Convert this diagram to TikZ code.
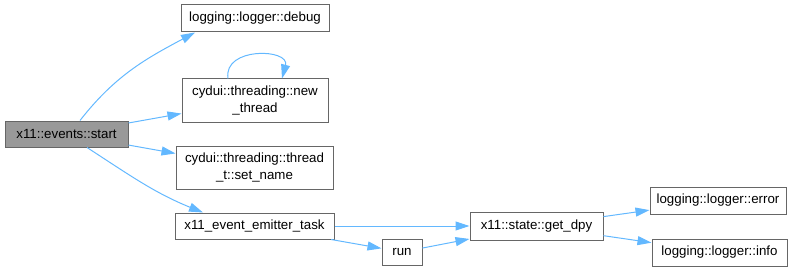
\documentclass[tikz,border=0pt]{standalone}
\usepackage{fontspec}
\setmainfont{Liberation Sans}
\usetikzlibrary{arrows.meta}
\usetikzlibrary{calc}

\definecolor{edgeblue}{HTML}{63B8FF}
\definecolor{boxline}{HTML}{666666}
\definecolor{curfill}{HTML}{999999}

\tikzset{
  fn/.style={draw=boxline, line width=1pt, fill=white, inner sep=0pt,
    align=center, font=\fontsize{13.3}{17}\selectfont},
  cur/.style={fn, fill=curfill},
  call/.style={draw=edgeblue, line width=1pt,
    -{Triangle[length=14pt,width=9pt]}},
}

\begin{document}
\begin{tikzpicture}[x=1pt,y=1pt]
                        \useasboundingbox (0,0) rectangle (795,271);
                        % function boxes
                        \node[cur, minimum width=123pt, minimum height=26pt] (start) at (66.5,137) {x11::events::start};
                        \node[fn, minimum width=148pt, minimum height=27pt] (debug) at (255,252.5) {logging::logger::debug};
                        \node[fn, minimum width=146pt, minimum height=43pt] (newthread) at (255,170.5) {cydui::threading::new\\\_thread};
                        \node[fn, minimum width=157pt, minimum height=43pt] (setname) at (254.5,103.5) {cydui::threading::thread\\\_t::set\_name};
                        \node[fn, minimum width=159pt, minimum height=26pt] (emitter) at (254.5,45) {x11\_event\_emitter\_task};
                        \node[fn, minimum width=40pt, minimum height=26pt] (run) at (402,19) {run};
                        \node[fn, minimum width=133pt, minimum height=28pt] (getdpy) at (536.5,45) {x11::state::get\_dpy};
                        \node[fn, minimum width=136pt, minimum height=27pt] (error) at (718,70.5) {logging::logger::error};
                        \node[fn, minimum width=135pt, minimum height=27pt] (info) at (719.5,18.5) {logging::logger::info};
                        % calls
                        \draw[call] ([xshift=13.5pt]start.north) to[out=52,in=208] ([xshift=-60pt]debug.south);
                        \draw[call] (start) -- (newthread);
                        \draw[call] (start) -- (setname);
                        \draw[call] ([xshift=20.5pt]start.south) to[out=-33,in=158] ([xshift=-51.5pt]emitter.north);
                        % recursive call
                        \draw[call] ([xshift=-27pt]newthread.north) .. controls +(-5,32) and +(8,30) .. ([xshift=27pt]newthread.north);
                        \draw[call] (emitter) -- (getdpy);
                        \draw[call] (emitter) -- (run);
                        \draw[call] (run) -- (getdpy);
                        \draw[call] (getdpy) -- (error);
                        \draw[call] (getdpy) -- (info);
                    \end{tikzpicture}
\end{document}
